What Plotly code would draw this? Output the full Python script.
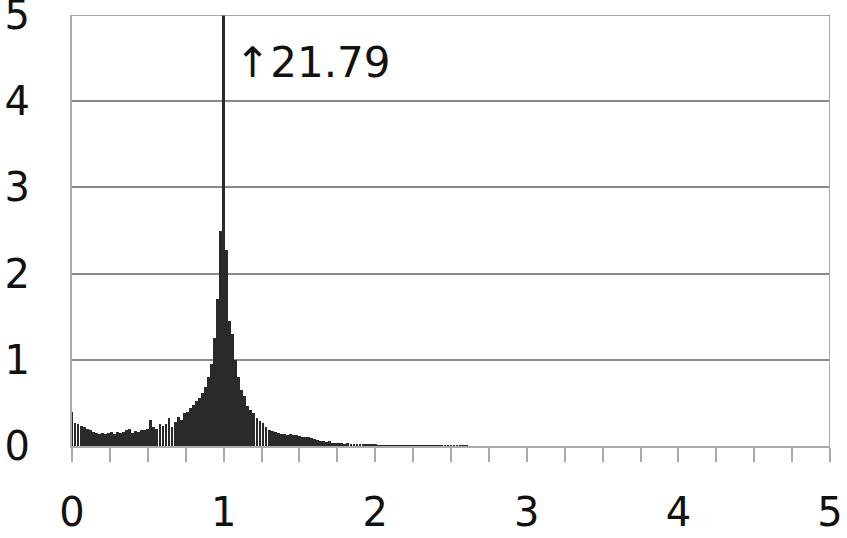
import plotly.graph_objects as go

bin_width = 0.02
bin_centers = [round(i * bin_width, 2) for i in range(0, 131)]
counts = [
    # 0.00 - 0.48
    0.40, 0.27, 0.25, 0.23, 0.22, 0.20, 0.18, 0.16, 0.15, 0.14,
    0.15, 0.14, 0.15, 0.16, 0.14, 0.16, 0.15, 0.16, 0.18, 0.20,
    0.15, 0.17, 0.16, 0.18, 0.19,
    # 0.50 - 0.98
    0.20, 0.30, 0.22, 0.20, 0.25, 0.23, 0.26, 0.32, 0.22, 0.28,
    0.34, 0.30, 0.38, 0.40, 0.44, 0.48, 0.52, 0.56, 0.62, 0.68,
    0.80, 0.95, 1.25, 1.70, 2.50,
    # 1.00 - 1.48
    21.79, 2.27, 1.45, 1.30, 1.00, 0.80, 0.65, 0.58, 0.46, 0.42,
    0.38, 0.33, 0.29, 0.27, 0.22, 0.19, 0.17, 0.16, 0.15, 0.14,
    0.14, 0.13, 0.14, 0.13, 0.13,
    # 1.50 - 1.98
    0.12, 0.11, 0.11, 0.10, 0.09, 0.08, 0.07, 0.06, 0.06, 0.05,
    0.06, 0.04, 0.03, 0.03, 0.03, 0.025, 0.03, 0.02, 0.025, 0.02,
    0.02, 0.018, 0.015, 0.02, 0.015,
    # 2.00 - 2.48
    0.012, 0.010, 0.011, 0.009, 0.010, 0.008, 0.009, 0.007, 0.008, 0.006,
    0.007, 0.006, 0.005, 0.006, 0.005, 0.004, 0.005, 0.004, 0.003, 0.004,
    0.003, 0.004, 0.003, 0.004, 0.003,
    # 2.50 - 2.60
    0.002, 0.003, 0.002, 0.002, 0.003, 0.002,
]

x_tick_vals = [0, 1, 2, 3, 4, 5]
x_tick_text = ["0", "1", "2", "3", "4", "5"]
y_tick_vals = [0, 1, 2, 3, 4, 5]
y_tick_text = ["0", "1", "2", "3", "4", "5"]
peak_label = "\u219121.79"
peak_x = 1.06
peak_y = 4.45

fig = go.Figure()
fig.add_trace(go.Bar(
    x=bin_centers[:len(counts)], y=counts, width=bin_width * 0.94,
    marker=dict(color="#2a2a2a", line=dict(width=0)),
    cliponaxis=True, showlegend=False,
))

fig.add_annotation(
    x=peak_x, y=peak_y, xref="x", yref="y", text=peak_label,
    showarrow=False, xanchor="left", yanchor="middle",
    font=dict(family="DejaVu Sans", size=42, color="#111"),
)

fig.update_layout(
    width=847, height=538,
    margin=dict(l=72, r=17, t=15, b=92),
    paper_bgcolor="white", plot_bgcolor="white",
    font=dict(family="DejaVu Sans", size=40, color="#111"),
    bargap=0,
    xaxis=dict(
        range=[0, 5], tickvals=x_tick_vals, ticktext=x_tick_text,
        ticks="outside", ticklen=14, tickwidth=2, tickcolor="#aaaaaa",
        minor=dict(dtick=0.25, tick0=0, ticks="outside", ticklen=14,
                   tickwidth=2, tickcolor="#aaaaaa", showgrid=False),
        showgrid=False, zeroline=False,
        showline=True, linecolor="#aaaaaa", linewidth=2,
        ticklabelstandoff=16, automargin=False,
        tickfont=dict(size=40),
    ),
    yaxis=dict(
        range=[0, 5.0005], tickvals=y_tick_vals, ticktext=y_tick_text,
        ticks="", showgrid=True, gridcolor="#8a8a8a", gridwidth=1.5,
        zeroline=False, showline=True, linecolor="#aaaaaa", linewidth=2,
        ticklabelstandoff=32, automargin=False,
        ticklabeloverflow="allow",
        tickfont=dict(size=40),
    ),
    shapes=[
        dict(type="line", xref="x", yref="y", x0=5, x1=5, y0=0, y1=5,
             line=dict(color="#aaaaaa", width=2)),
        dict(type="line", xref="x", yref="y", x0=0, x1=5, y0=5, y1=5,
             line=dict(color="#8a8a8a", width=1.5)),
    ],
)

fig.write_html(
    "out.html",
    config={"displayModeBar": False},
    post_script="document.body.style.margin='0px';",
)
